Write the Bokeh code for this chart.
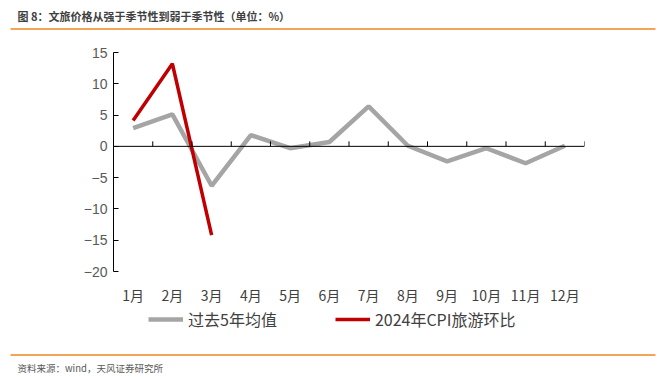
from bokeh.plotting import figure
from bokeh.models import Range1d, FixedTicker, Span, Legend, LegendItem
from bokeh.layouts import column, row
from bokeh.embed import file_html
from bokeh.resources import INLINE

months = ["1月", "2月", "3月", "4月", "5月", "6月", "7月", "8月", "9月", "10月", "11月", "12月"]
avg5 = [2.9, 5.1, -6.3, 1.8, -0.3, 0.7, 6.4, 0.1, -2.4, -0.3, -2.7, 0.1]
cpi2024 = [4.15, 13.2, -14.2]
y_ticks = [-20, -15, -10, -5, 0, 5, 10, 15]
title_text = "图 8：文旅价格从强于季节性到弱于季节性（单位：%）"
source_text = "资料来源：wind，天风证券研究所"
avg_name = "过去5年均值"
cpi_name = "2024年CPI旅游环比"

W = 660
HEAD_H, MAIN_H, FOOT_H = 38, 269, 70
ORANGE = "#F0861E"
GRAY = "#A5A5A5"
RED = "#C00000"
CJK = "Noto Sans CJK SC"
NAN = float("nan")


def blank(h):
    f = figure(width=W, height=h, output_backend="svg", toolbar_location=None,
               x_range=Range1d(0, W), y_range=Range1d(h, 0),
               x_axis_location=None, y_axis_location=None,
               min_border=0, min_border_left=0, min_border_right=0,
               min_border_top=0, min_border_bottom=0)
    f.outline_line_color = None
    f.grid.visible = False
    return f


# ---- header
head = blank(HEAD_H)
head.text(x=[17], y=[15], text=[title_text], text_font_size="11px",
          text_font_style="bold", text_color="#404040", text_baseline="middle",
          text_font={"value": CJK})
head.segment(x0=[10], y0=[28.5], x1=[655], y1=[28.5], line_color=ORANGE, line_width=1.5)

# ---- main chart
p = figure(width=W, height=MAIN_H, output_backend="svg", toolbar_location=None,
           x_range=Range1d(0, len(months)), y_range=Range1d(min(y_ticks), max(y_ticks)),
           min_border_left=113, min_border_right=76, min_border_top=14, min_border_bottom=36)
p.outline_line_color = None
p.grid.visible = False

xc = [i + 0.5 for i in range(len(months))]
p.line(xc, avg5, line_color=GRAY, line_width=4.5)
p.line(xc[:len(cpi2024)], cpi2024, line_color=RED, line_width=3.5)

p.add_layout(Span(location=0, dimension="width", line_color="black", line_width=1))
bounds = list(range(1, len(months) + 1))
p.segment(x0=bounds, y0=[0] * len(bounds), x1=bounds, y1=[0.8] * len(bounds),
          line_color="black", line_width=1)

xa = p.xaxis[0]
xa.ticker = FixedTicker(ticks=xc)
xa.major_label_overrides = {x: m for x, m in zip(xc, months)}
xa.axis_line_color = None
xa.major_tick_line_color = None
xa.major_tick_in = 0
xa.major_tick_out = 0
xa.minor_tick_line_color = None
xa.major_label_standoff = 13
xa.major_label_text_font = CJK
xa.major_label_text_font_size = "14px"
xa.major_label_text_color = "#404040"

ya = p.yaxis[0]
ya.ticker = FixedTicker(ticks=y_ticks)
ya.axis_line_color = "black"
ya.major_tick_line_color = "black"
ya.major_tick_in = 5
ya.major_tick_out = 0
ya.minor_tick_line_color = None
ya.major_label_text_font = "Liberation Sans"
ya.major_label_text_font_size = "14px"
ya.major_label_text_color = "#595959"
ya.major_label_standoff = 6
ya.major_label_overrides = {v: str(v).replace("-", "\u2212") for v in y_ticks}

# ---- footer with legend and source (footer starts at page y = 307)
foot = blank(FOOT_H)
g1 = foot.line(x=[NAN], y=[NAN], line_color=GRAY, line_width=4.5)
g2 = foot.line(x=[NAN], y=[NAN], line_color=RED, line_width=3.5)
legend = Legend(items=[LegendItem(label=avg_name, renderers=[g1]),
                       LegendItem(label=cpi_name, renderers=[g2])],
                orientation="horizontal", location=(148, 46),
                border_line_color=None, background_fill_alpha=0,
                padding=0, margin=0, spacing=58, glyph_width=35, glyph_height=18,
                label_height=18, label_standoff=5, label_text_font=CJK,
                label_text_font_size="16px", label_text_color="#404040")
foot.add_layout(legend, "center")
foot.segment(x0=[10], y0=[47.5], x1=[655], y1=[47.5], line_color=ORANGE, line_width=1.5)
foot.text(x=[17], y=[60], text=[source_text], text_font_size="9.5px",
          text_color="#595959", text_baseline="middle", text_font={"value": CJK})

layout = column(row(head), row(p), row(foot), spacing=0)
open("out.html", "w").write(file_html(layout, INLINE))
